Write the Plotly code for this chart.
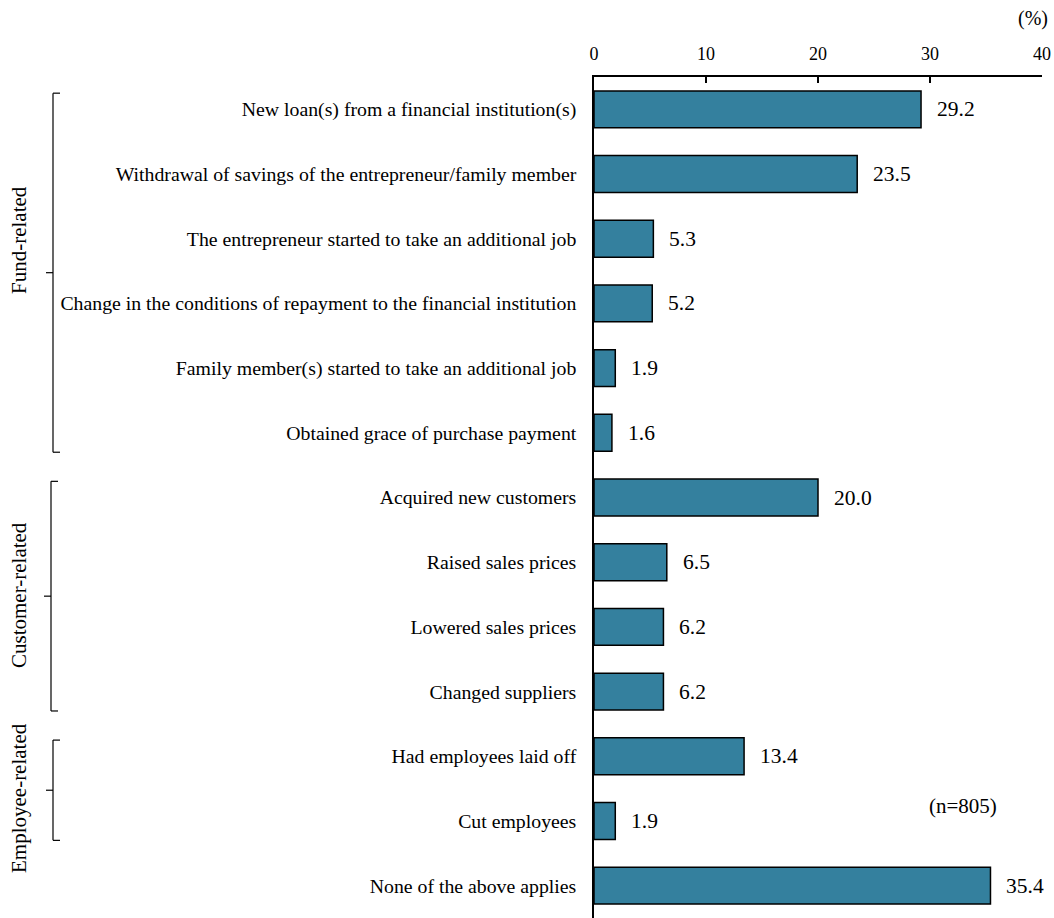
import plotly.graph_objects as go

categories = [
    "New loan(s) from a financial institution(s)",
    "Withdrawal of savings of the entrepreneur/family member",
    "The entrepreneur started to take an additional job",
    "Change in the conditions of repayment to the financial institution",
    "Family member(s) started to take an additional job",
    "Obtained grace of purchase payment",
    "Acquired new customers",
    "Raised sales prices",
    "Lowered sales prices",
    "Changed suppliers",
    "Had employees laid off",
    "Cut employees",
    "None of the above applies",
]
values = [29.2, 23.5, 5.3, 5.2, 1.9, 1.6, 20.0, 6.5, 6.2, 6.2, 13.4, 1.9, 35.4]
groups = [("Fund-related", 0, 5), ("Customer-related", 6, 9), ("Employee-related", 10, 11)]
x_ticks = [0, 10, 20, 30, 40]

W, H = 1054, 918
PL, PR, PT, PB = 594, 1042, 77, 918  # plot area in window pixels
FONT = "Liberation Serif"
BAR = "#34809E"

fig = go.Figure(go.Bar(
    x=values, y=categories, orientation="h",
    marker=dict(color=BAR, line=dict(color="black", width=1.5)),
    hoverinfo="x+y", width=0.57,
))

pw = PR - PL
ph = PB - PT
def px_x(px):
    return (px - PL) / pw
def px_y(py):
    return 1 - (py - PT) / ph

shapes = []
annotations = []
for v, c in zip(values, categories):
    annotations.append(dict(text=f"{v:.1f}", x=v, y=c, xref="x", yref="y", showarrow=False,
                            xanchor="left", yanchor="middle", xshift=14,
                            font=dict(family=FONT, size=21.5, color="black")))

bracket_x = {"Fund-related": 53, "Customer-related": 51, "Employee-related": 53}
label_y = {"Fund-related": 240, "Customer-related": 595, "Employee-related": 798}
for name, s, e in groups:
    bxp = bracket_x[name]
    bx = px_x(bxp)
    y0 = s - 0.25
    y1 = e + 0.3
    ym = (y0 + y1) / 2
    line = dict(color="black", width=1.2)
    shapes.append(dict(type="line", xref="paper", yref="y", x0=bx, x1=bx, y0=y0, y1=y1, line=line))
    shapes.append(dict(type="line", xref="paper", yref="y", x0=bx, x1=px_x(bxp + 7), y0=y0, y1=y0, line=line))
    shapes.append(dict(type="line", xref="paper", yref="y", x0=bx, x1=px_x(bxp + 7), y0=y1, y1=y1, line=line))
    shapes.append(dict(type="line", xref="paper", yref="y", x0=bx, x1=px_x(bxp - 7), y0=ym, y1=ym, line=line))
    annotations.append(dict(text=name, xref="paper", yref="paper", x=px_x(19), y=px_y(label_y[name]),
                            textangle=-90, showarrow=False, xanchor="center", yanchor="middle",
                            font=dict(family=FONT, size=21, color="black")))

annotations.append(dict(text="(%)", xref="paper", yref="paper", x=px_x(1050), y=px_y(18),
                        showarrow=False, xanchor="right", yanchor="middle",
                        font=dict(family=FONT, size=20, color="black")))
annotations.append(dict(text="(n=805)", xref="paper", yref="paper", x=px_x(963), y=px_y(806),
                        showarrow=False, xanchor="center", yanchor="middle",
                        font=dict(family=FONT, size=21, color="black")))

fig.update_layout(
    width=W, height=H,
    margin=dict(l=PL, r=W - PR, t=PT, b=H - PB, pad=0),
    paper_bgcolor="white", plot_bgcolor="white",
    showlegend=False,
    shapes=shapes, annotations=annotations,
    xaxis=dict(side="top", range=[0, 40], tickvals=x_ticks, ticks="inside", ticklen=6,
               tickcolor="black", tickwidth=1.5, showline=True, linecolor="black", linewidth=1.5,
               showgrid=False, zeroline=False, ticklabelstandoff=8,
               tickfont=dict(family=FONT, size=18, color="black")),
    yaxis=dict(autorange="reversed", showline=True, linecolor="black", linewidth=1.5,
               showgrid=False, ticks="", ticklabelstandoff=12,
               tickfont=dict(family=FONT, size=19.8, color="black")),
)

fig.write_html("out.html", config={"displayModeBar": False},
               post_script="document.body.style.margin='0';document.body.style.overflow='hidden';")
